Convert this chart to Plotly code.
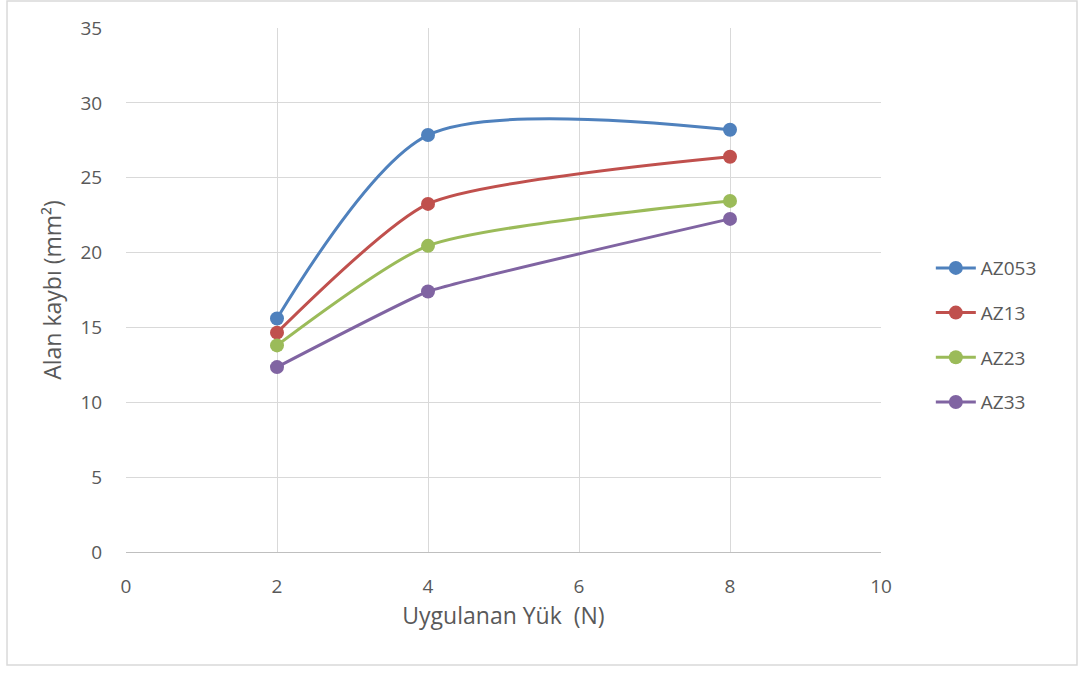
import plotly.graph_objects as go

x_load = [2, 4, 8]
series_names = ["AZ053", "AZ13", "AZ23", "AZ33"]
az053 = [15.6, 27.85, 28.2]
az13 = [14.65, 23.25, 26.4]
az23 = [13.8, 20.45, 23.45]
az33 = [12.35, 17.4, 22.25]
colors = ["#4F81BD", "#C0504D", "#9BBB59", "#8064A2"]
smooth = [0.8, 0.6, 0.6, 0.3]

x_ticks = [0, 2, 4, 6, 8, 10]
y_ticks = [0, 5, 10, 15, 20, 25, 30, 35]

font_family = "Open Sans, Liberation Sans, sans-serif"
txt = "#595959"

fig = go.Figure()
for i, (name, vals) in enumerate(zip(series_names, [az053, az13, az23, az33])):
    fig.add_trace(go.Scatter(
        x=x_load, y=vals, name=name, mode="lines+markers",
        line=dict(color=colors[i], width=3, shape="spline", smoothing=smooth[i]),
        marker=dict(color=colors[i], size=14),
        legendgroup=name,
    ))

fig.update_layout(
    width=1084, height=673,
    margin=dict(l=126, r=203, t=28, b=121),
    paper_bgcolor="white", plot_bgcolor="white",
    font=dict(family=font_family, color=txt, size=19),
    showlegend=True,
    legend=dict(x=1.066, xanchor="left", y=0.414, yanchor="middle",
                font=dict(size=19, color=txt), tracegroupgap=17,
                itemwidth=40, bgcolor="rgba(0,0,0,0)"),
    xaxis=dict(range=[0, 10], tickvals=x_ticks, showgrid=True,
               gridcolor="#D9D9D9", gridwidth=1, zeroline=False,
               showline=True, linecolor="#BFBFBF", linewidth=1,
               ticks="outside", ticklen=17, tickcolor="rgba(0,0,0,0)",
               title=dict(text="Uygulanan Yük  (N)", font=dict(size=23, color=txt), standoff=6),
               tickfont=dict(size=19, color=txt)),
    yaxis=dict(range=[0, 35], tickvals=y_ticks, showgrid=True,
               gridcolor="#D9D9D9", gridwidth=1, zeroline=False,
               showline=False, ticks="outside", ticklen=19, tickcolor="rgba(0,0,0,0)",
               title=dict(text="Alan kaybı (mm²)", font=dict(size=23, color=txt), standoff=12),
               tickfont=dict(size=19, color=txt)),
)

fig.add_shape(type="rect", xref="paper", yref="paper",
              x0=-0.1576, x1=1.2596, y0=-0.2156, y1=1.0515,
              line=dict(color="#D9D9D9", width=1.5), layer="below")

fig.write_html("out.html")
